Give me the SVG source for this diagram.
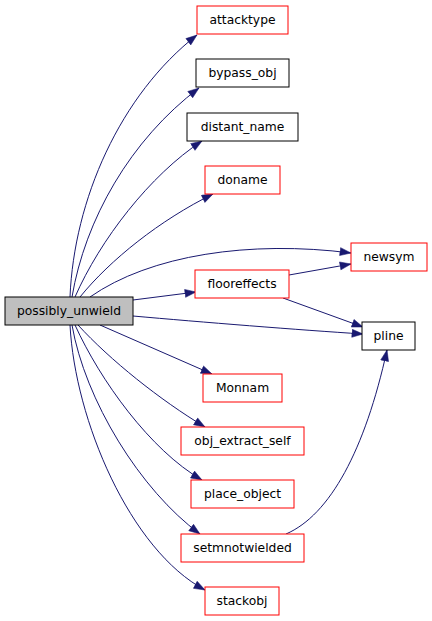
<svg xmlns="http://www.w3.org/2000/svg" width="432" height="621" viewBox="0 0 432 621">
<style>
.n rect{fill:#fff;stroke:#ff0000;stroke-width:1}
.n.b rect{stroke:#000}
.n.m rect{fill:#bfbfbf;stroke:#000}
.n text{font-family:"DejaVu Sans",sans-serif;font-size:12.3px;text-anchor:middle;fill:#000}
.e path{fill:none;stroke:#191970;stroke-width:1;marker-end:url(#ah)}
</style>
<defs>
<marker id="ah" markerUnits="userSpaceOnUse" markerWidth="13" markerHeight="10" refX="11.5" refY="4.5" orient="auto">
<path d="M0.5,0.5 L11.5,4.5 L0.5,8.5 z" fill="#191970" stroke="#191970" stroke-width="0.5"/>
</marker>
</defs>
<rect width="432" height="621" fill="#fff"/>
<g id="edges" class="e">
<path d="M70,297 C74,200 120,95 197,35"/>
<path d="M72,297 C85,220 130,140 199,88"/>
<path d="M75,297 C100,240 150,175 202,141"/>
<path d="M80,297 C110,260 160,220 213,194"/>
<path d="M90,297 C150,255 250,240 351,253"/>
<path d="M133,300 L196,292"/>
<path d="M289,275 L351,264"/>
<path d="M283,298 L363,327"/>
<path d="M133,316 C200,322 300,330 363,334"/>
<path d="M100,325 L212,374"/>
<path d="M286,534 C330,515 365,450 387,350"/>
<path d="M78,325 C110,360 160,400 205,427"/>
<path d="M75,325 C100,380 150,450 202,480"/>
<path d="M72,325 C85,400 140,490 200,534"/>
<path d="M70,325 C75,420 130,550 205,590"/>
</g>
<g id="attacktype" class="n"><rect x="197" y="6" width="91" height="28"/><text x="242.5" y="24">attacktype</text></g>
<g id="bypass_obj" class="n b"><rect x="196" y="59" width="93" height="28"/><text x="242.5" y="77">bypass_obj</text></g>
<g id="distant_name" class="n b"><rect x="187" y="113" width="111" height="28"/><text x="242.5" y="131">distant_name</text></g>
<g id="doname" class="n"><rect x="205" y="166" width="75" height="28"/><text x="242.5" y="184">doname</text></g>
<g id="newsym" class="n"><rect x="351" y="243" width="76" height="28"/><text x="389" y="261">newsym</text></g>
<g id="flooreffects" class="n"><rect x="195" y="270" width="94" height="28"/><text x="242" y="288">flooreffects</text></g>
<g id="possibly_unwield" class="n m"><rect x="5" y="297" width="128" height="28"/><text x="69" y="315">possibly_unwield</text></g>
<g id="pline" class="n b"><rect x="362" y="322" width="53" height="28"/><text x="388.5" y="340">pline</text></g>
<g id="Monnam" class="n"><rect x="203" y="374" width="79" height="28"/><text x="242.5" y="392">Monnam</text></g>
<g id="obj_extract_self" class="n"><rect x="181" y="427" width="123" height="28"/><text x="242.5" y="445">obj_extract_self</text></g>
<g id="place_object" class="n"><rect x="191" y="480" width="103" height="28"/><text x="242.5" y="498">place_object</text></g>
<g id="setmnotwielded" class="n"><rect x="181" y="534" width="123" height="28"/><text x="242.5" y="552">setmnotwielded</text></g>
<g id="stackobj" class="n"><rect x="205" y="587" width="74" height="28"/><text x="242" y="605">stackobj</text></g>
</svg>
